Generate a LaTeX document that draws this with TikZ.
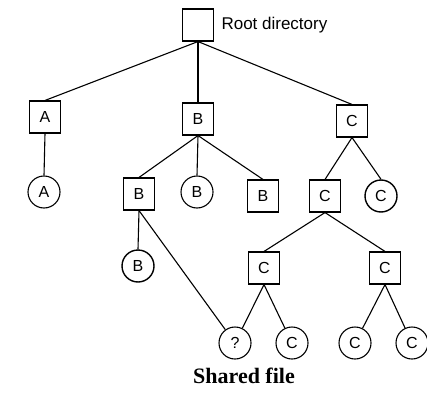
\documentclass[tikz,border=0pt]{standalone}
\usepackage{fontspec}
\setmainfont{Liberation Serif}
\setsansfont{Liberation Sans}
\usetikzlibrary{positioning}

\begin{document}
\begin{tikzpicture}[x=1pt, y=-1pt, font=\sffamily\fontsize{16}{19}\selectfont,
  dirbox/.style={draw, line width=1.1pt, minimum width=31pt, minimum height=32pt, inner sep=0pt},
  filenode/.style={draw, circle, line width=1.1pt, minimum size=32pt, inner sep=0pt},
  link/.style={line width=1.1pt}
]
  \useasboundingbox (0,0) rectangle (427,398);

  \node[dirbox] (root) at (198,25) {};
  \node[anchor=west, font=\sffamily\fontsize{17}{20}\selectfont] (rootlbl) at (218,25) {Root directory};

  \node[dirbox] (a) at (45,117) {A};
  \node[dirbox] (b) at (198,119) {B};
  \node[dirbox] (c) at (352,121) {C};

  \node[filenode] (fa) at (44,192) {A};
  \node[dirbox] (bb) at (139,194) {B};
  \node[filenode] (fb) at (197,192) {B};
  \node[dirbox] (bc) at (263,196) {B};
  \node[dirbox] (cc) at (325,196) {C};
  \node[filenode, line width=1.4pt] (fc) at (381,196) {C};

  \node[filenode, line width=1.4pt] (fbb) at (138,266) {B};
  \node[dirbox] (ccl) at (264,268) {C};
  \node[dirbox] (ccr) at (385,268) {C};

  \node[filenode] (shared) at (235,343) {?};
  \node[filenode] (fc1) at (292,343) {C};
  \node[filenode] (fc2) at (355,343) {C};
  \node[filenode] (fc3) at (412,343) {C};

  \node[font=\rmfamily\bfseries\fontsize{22}{26}\selectfont] (caption) at (244,376) {Shared file};

  \draw[link] (root.south) -- (a.north);
  \draw[link] (root.south) -- (b.north);
  \draw[link] (root.south) -- (c.north);
  \draw[link] (a.south) -- (fa.north);
  \draw[link] (b.south) -- (bb.north);
  \draw[link] (b.south) -- (fb.north);
  \draw[link] (b.south) -- (bc.north);
  \draw[link] (c.south) -- (cc.north);
  \draw[link] (c.south) -- (fc.north);
  \draw[link] (bb.south) -- (fbb.north);
  \draw[link] (bb.south) -- (shared);
  \draw[link] (cc.south) -- (ccl.north);
  \draw[link] (cc.south) -- (ccr.north);
  \draw[link] (ccl.south) -- (shared);
  \draw[link] (ccl.south) -- (fc1);
  \draw[link] (ccr.south) -- (fc2);
  \draw[link] (ccr.south) -- (fc3);
\end{tikzpicture}
\end{document}
